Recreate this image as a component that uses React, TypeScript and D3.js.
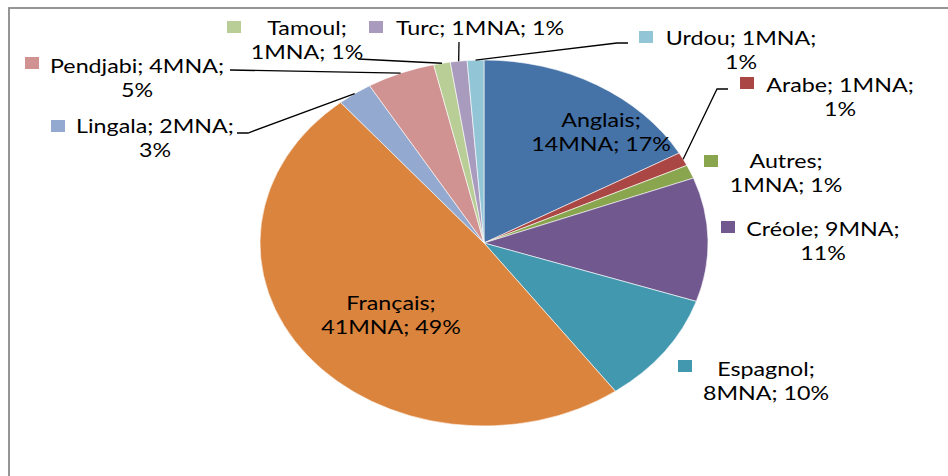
import React from "react";
import * as d3 from "d3";

// ---- data ----
const categories = ["Anglais", "Arabe", "Autres", "Créole", "Espagnol", "Français", "Lingala", "Pendjabi", "Tamoul", "Turc", "Urdou"];
const values = [14.0, 1.0, 1.0, 9.1, 8.2, 40.7, 2.1, 4.1, 1.0, 1.0, 1.0];
const unit = "MNA";
const colors = ["#4572A7", "#AA4643", "#89A54E", "#71588F", "#4198AF", "#DB843D", "#93A9CF", "#D19392", "#B9CD96", "#A99BBD", "#92C5D6"];

// ---- layout (screen coordinates) ----
type LabelLayout = { cx: number; y: number; split: number; marker?: [number, number]; leader?: [number, number][] };
const labelLayout: LabelLayout[] = [
  { cx: 601, y: 127, split: 1 },
  { cx: 840, y: 92, split: 2, marker: [740, 77], leader: [[728, 89], [717, 89]] },
  { cx: 786, y: 168, split: 1, marker: [704, 155] },
  { cx: 823, y: 236, split: 2, marker: [721, 221] },
  { cx: 766, y: 376, split: 1, marker: [678, 360] },
  { cx: 391, y: 310, split: 1 },
  { cx: 155, y: 133, split: 2, marker: [51, 120], leader: [[237, 133], [248, 133]] },
  { cx: 137, y: 73, split: 2, marker: [25, 57], leader: [[230, 70]] },
  { cx: 307, y: 35, split: 1, marker: [227, 21], leader: [[358, 59]] },
  { cx: 480, y: 35, split: 3, marker: [369, 21], leader: [[459, 42]] },
  { cx: 741, y: 45, split: 2, marker: [639, 31], leader: [[628, 43], [617, 43]] },
];

const W = 948;
const H = 476;
const CX = 484;
const CY = 243;
const RY = 183;
const SX = 224 / 183; // horizontal stretch of the picture
const LINE_H = 24;
const FONT = "Lato, 'Liberation Sans', sans-serif";
const FONT_SIZE = 19;

export default function App() {
  const total = d3.sum(values);
  const pie = d3.pie<number>().sort(null).value((d) => d)(values);
  const arc = d3.arc<d3.PieArcDatum<number>>().innerRadius(0).outerRadius(RY);

  const edgePoint = (a: d3.PieArcDatum<number>): [number, number] => {
    const m = (a.startAngle + a.endAngle) / 2;
    return [CX + Math.sin(m) * RY * SX, CY - Math.cos(m) * RY];
  };

  return (
    <svg width={W} height={H} style={{ position: "absolute", left: 0, top: 0, background: "#fff" }}>
      <rect x={0} y={0} width={W} height={H} fill="#fff" />
      <rect x={9} y={8} width={W + 20} height={H + 20} fill="none" stroke="#8a8a8a" strokeWidth={1.8} />
      <g transform={`translate(${CX},${CY}) scale(${SX},1)`}>
        {pie.map((p, i) => (
          <path key={i} d={arc(p) || ""} fill={colors[i]} stroke="#ffffff" strokeWidth={0.6} vectorEffect="non-scaling-stroke" />
        ))}
      </g>
      {pie.map((p, i) => {
        const L = labelLayout[i];
        if (!L.leader) return null;
        const pts = [...L.leader, edgePoint(p)];
        const line = d3.line()(pts as [number, number][]);
        return <path key={"l" + i} d={line || ""} fill="none" stroke="#000" strokeWidth={1.3} />;
      })}
      {values.map((v, i) => {
        const L = labelLayout[i];
        const pct = Math.round((v / total) * 100);
        const tokens = [`${categories[i]};`, `${Math.round(v)}${unit};`, `${pct}%`];
        const lines = [tokens.slice(0, L.split).join(" "), tokens.slice(L.split).join(" ")].filter((s) => s.length > 0);
        return (
          <g key={"t" + i}>
            {L.marker && <rect x={L.marker[0]} y={L.marker[1]} width={14} height={12} fill={colors[i]} />}
            {lines.map((s, k) => (
              <text
                key={k}
                transform={`translate(${L.cx},${L.y + k * LINE_H}) scale(${SX},1)`}
                textAnchor="middle"
                fontFamily={FONT}
                fontSize={FONT_SIZE}
                fill="#000"
              >
                {s}
              </text>
            ))}
          </g>
        );
      })}
    </svg>
  );
}
